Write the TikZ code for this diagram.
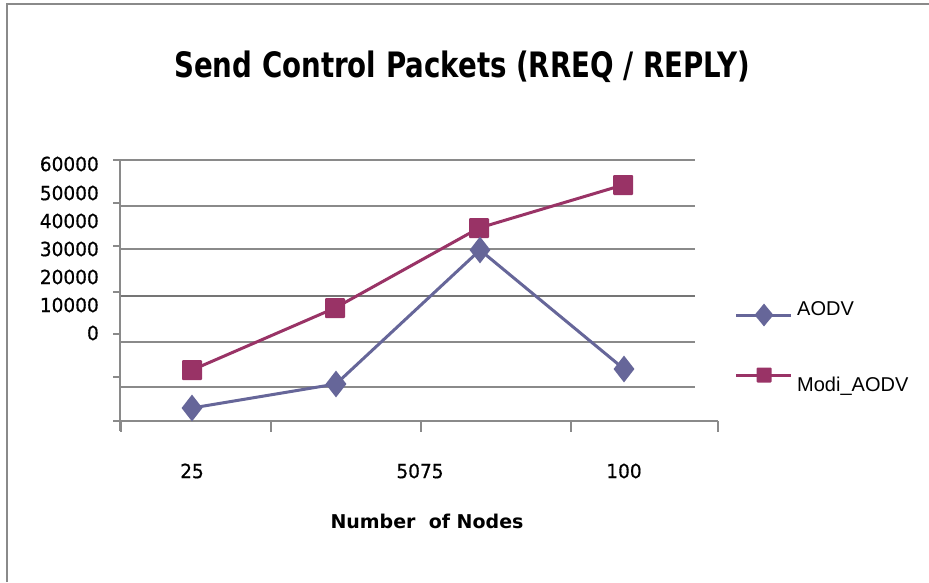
\documentclass[tikz,border=0pt]{standalone}
\usepackage{fontspec}
\usetikzlibrary{shapes.geometric}
\setmainfont{DejaVu Sans}
\newfontfamily\titlefont{DejaVu Sans}[FakeStretch=0.79]
\newfontfamily\labfont{DejaVu Sans}[FakeStretch=0.95,FakeBold=0.6]
\newfontfamily\legfont{Liberation Sans}
\definecolor{aodvc}{HTML}{666699}
\definecolor{modic}{HTML}{993366}
\definecolor{gridc}{HTML}{8A8A8A}
\definecolor{framec}{HTML}{8A8A8A}
\tikzset{
  grid line/.style={draw=gridc, line width=1.8pt},
  axis line/.style={draw=gridc, line width=1.8pt},
  aodvline/.style={draw=aodvc, line width=3pt, line join=round},
  modiline/.style={draw=modic, line width=3pt, line join=round},
  dmark/.style={shape=diamond, fill=aodvc, draw=none, inner sep=0pt, minimum width=21pt, minimum height=27pt},
  smark/.style={shape=rectangle, fill=modic, draw=none, inner sep=0pt, minimum size=20pt, rounded corners=1pt},
  ticklab/.style={inner sep=0pt, font=\labfont\fontsize{19.5}{22}\selectfont, text=black},
  leglab/.style={inner sep=0pt, anchor=west, font=\legfont\fontsize{20}{24}\selectfont, text=black},
}
\begin{document}
\begin{tikzpicture}[x=1pt, y=-1pt]
\useasboundingbox (0,0) rectangle (929,582);
% frame
\coordinate (fbl) at (7,582);
\coordinate (ftl) at (7,4);
\coordinate (ftr) at (929,4);
\draw[framec, line width=1.6pt] (fbl) -- (ftl) -- (ftr);
% title
\node[inner sep=0pt] (title) at (462,67) {\titlefont\bfseries\fontsize{35}{40}\selectfont Send Control Packets (RREQ / REPLY)};
% grid lines
\foreach \yy/\nm in {160/g1, 206/g2, 249/g3, 342/g5, 387/g6} {
  \coordinate (\nm l) at (120,\yy);
  \coordinate (\nm r) at (695,\yy);
  \draw[grid line] (\nm l) -- (\nm r);
}
\coordinate (g4l) at (120,296);
\coordinate (g4r) at (695,296);
\draw[draw=gridc!85!black, line width=2.6pt] (g4l) -- (g4r);
% axes
\coordinate (ytop) at (120,160);
\coordinate (ybot) at (120,431);
\draw[axis line] (ytop) -- (ybot);
\coordinate (xl) at (113,421);
\coordinate (xr) at (718,421);
\draw[axis line] (xl) -- (xr);
% y ticks
\foreach \yy [count=\i] in {160,203,246,292,334,377,421} {
  \coordinate (yt\i a) at (113,\yy);
  \coordinate (yt\i b) at (120,\yy);
  \draw[axis line] (yt\i a) -- (yt\i b);
}
% x ticks
\foreach \xx [count=\i] in {121,271,421,571,718} {
  \coordinate (xt\i a) at (\xx,421);
  \coordinate (xt\i b) at (\xx,432);
  \draw[axis line] (xt\i a) -- (xt\i b);
}
% y labels
\node[ticklab, anchor=east] (y6) at (99,164) {60000};
\node[ticklab, anchor=east] (y5) at (99,193) {50000};
\node[ticklab, anchor=east] (y4) at (99,221) {40000};
\node[ticklab, anchor=east] (y3) at (99,249) {30000};
\node[ticklab, anchor=east] (y2) at (99,277) {20000};
\node[ticklab, anchor=east] (y1) at (99,305) {10000};
\node[ticklab, anchor=east] (y0) at (99,333) {0};
% x labels
\node[ticklab] (x25) at (192,471) {25};
\node[ticklab] (x5075) at (420,471) {5075};
\node[ticklab] (x100) at (624,471) {100};
\node[inner sep=0pt, font=\bfseries\fontsize{19}{22}\selectfont] (xtitle) at (427,521) {Number\ \ of Nodes};
% data
\coordinate (a1) at (192,408);
\coordinate (a2) at (336,384);
\coordinate (a3) at (480,250);
\coordinate (a4) at (624,369);
\coordinate (m1) at (192,370);
\coordinate (m2) at (335,308);
\coordinate (m3) at (479,228);
\coordinate (m4) at (623,185);
\draw[modiline] (m1) -- (m2) -- (m3) -- (m4);
\draw[aodvline] (a1) -- (a2) -- (a3) -- (a4);
\foreach \p in {m1,m2,m3,m4} { \node[smark] at (\p) {}; }
\foreach \p in {a1,a2,a3,a4} { \node[dmark] at (\p) {}; }
% legend
\coordinate (la1) at (736,315);
\coordinate (la2) at (791,315);
\draw[aodvline, line cap=butt] (la1) -- (la2);
\node[dmark, minimum width=19pt, minimum height=23pt] (lad) at (764,315) {};
\node[leglab] (lat) at (797,309) {AODV};
\coordinate (lm1) at (736,375);
\coordinate (lm2) at (791,375);
\draw[modiline, line cap=butt] (lm1) -- (lm2);
\node[smark, minimum size=15pt] (lms) at (764,375) {};
\node[leglab] (lmt) at (797,386) {Modi\_AODV};
\end{tikzpicture}
\end{document}
